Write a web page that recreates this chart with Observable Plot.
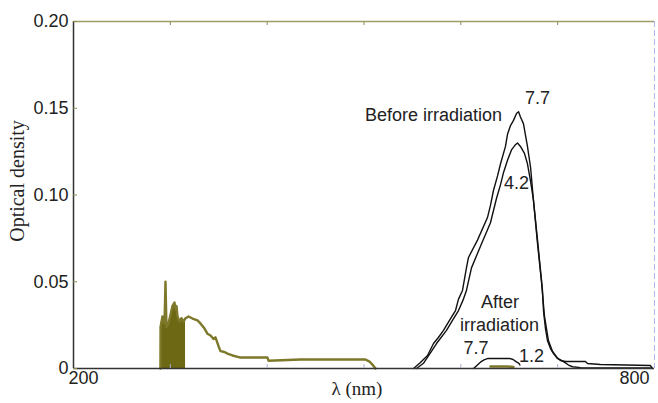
<!DOCTYPE html>
<html><head><meta charset="utf-8">
<script src="https://cdn.jsdelivr.net/npm/d3@7"></script>
<script src="https://cdn.jsdelivr.net/npm/@observablehq/plot@0.6"></script>
<style>
html,body{margin:0;padding:0;background:#fff;}
#chart{width:658px;height:403px;overflow:hidden;}
</style></head><body><div id="chart"></div>
<script>
// UV absorption (olive), wavelength nm / optical density
const uvLambda = [289.8,289.9,291.9,294,295,296,298.1,300.2,302.2,304.3,305.3,306.4,307.4,309.5,311.5,313.6,315.7,318.8,322.9,328,331.1,335.3,338.4,341.5,344.6,346.6,349.7,351.8,355.9,359,364.2,372.5,400.3,401.4,434.4,475.7,501.5,505.7,509.8,511.9];
const uvOD     = [0,0.024,0.030,0.026,0.050,0.024,0.026,0.031,0.036,0.038,0.034,0.036,0.030,0.027,0.029,0.027,0.029,0.030,0.0288,0.0277,0.026,0.023,0.020,0.019,0.017,0.018,0.013,0.010,0.0095,0.0086,0.0075,0.0063,0.0063,0.0045,0.0052,0.0052,0.0052,0.0040,0.0015,0];
const uvFillEnd = 315.7;

// Before irradiation, pH 7.7
const before77Lambda = [551.1,558.3,565.6,571.8,577,582.1,588.3,594.5,597.6,601.7,605.8,607.9,617.2,627.5,630.6,633.7,637.9,641,646.1,648.2,651.3,654.4,657.5,659.6,661.6,664.7,668.8,672,675,679.2,682.3,684.3,685.4,687.4,689.5,692.6,695.7,699.8,702.9,708.1,728.7,730.8,744.2,795.9,797.9];
const before77OD     = [0,0.0035,0.0075,0.0144,0.018,0.022,0.0277,0.0334,0.040,0.045,0.058,0.064,0.074,0.087,0.094,0.1026,0.111,0.118,0.128,0.135,0.140,0.143,0.147,0.148,0.145,0.141,0.128,0.116,0.097,0.074,0.0565,0.045,0.033,0.023,0.016,0.0115,0.0086,0.0058,0.0046,0.004,0.004,0.0029,0.0023,0.0017,0];

// Before irradiation, pH 4.2
const before42Lambda = [554.2,561.4,568.6,574.9,585.2,591.4,597.6,602.7,605.8,611,620.3,630.6,636.8,641,644.1,648.2,652.3,656.4,658.5,661.6,665.7,668.8,672,675,679.2,683.3,686.4,690.5,694.6,699.8,706,711.2,715.3,723.6,795.9];
const before42OD     = [0,0.003,0.009,0.0144,0.022,0.0277,0.0334,0.040,0.045,0.058,0.0705,0.084,0.098,0.106,0.113,0.120,0.126,0.129,0.130,0.128,0.124,0.118,0.108,0.097,0.072,0.050,0.030,0.016,0.010,0.006,0.004,0.002,0.001,0.0005,0.0003];

// After irradiation, pH 7.7 and 1.2
const after77Lambda = [613.1,616,618,621,624,628,650,654,657,660,661];
const after77OD     = [0,0.0015,0.0025,0.004,0.005,0.0058,0.0058,0.0052,0.004,0.003,0.002];
const after12Lambda = [630.6,640,648,654.4];
const after12OD     = [0.0012,0.0012,0.0012,0.0009];

// Axis ticks
const xTicks = [200, 800];
const xTickLabels = ["200", "800"];
const xMinorTicks = [300, 400, 500, 600, 700];
const yTicks = [0, 0.05, 0.10, 0.15, 0.20];
const yTickLabels = ["0", "0.05", "0.10", "0.15", "0.20"];

// Annotations
const annoText   = ["Before irradiation", "7.7", "4.2", "After", "irradiation", "7.7", "1.2"];
const annoLambda = [571.8, 679.2, 657.5, 640.4, 639.9, 615.7, 673];
const annoOD     = [0.1458, 0.1555, 0.1066, 0.0383, 0.0248, 0.0118, 0.0069];

const zip = (xs, ys) => xs.map((l, i) => ({l, v: ys[i]}));
const uv = zip(uvLambda, uvOD);
const uvFill = uv.filter(d => d.l <= uvFillEnd).concat([{l: uvFillEnd, v: 0}]);
const b77 = zip(before77Lambda, before77OD);
const b42 = zip(before42Lambda, before42OD);
const a77 = zip(after77Lambda, after77OD);
const a12 = zip(after12Lambda, after12OD);
const anno = annoText.map((t, i) => ({t, l: annoLambda[i], v: annoOD[i]}));

const sans = "'Liberation Sans', Arial, Helvetica, sans-serif";
const serif = "'Liberation Serif', 'Times New Roman', serif";

const chart = Plot.plot({
  width: 658, height: 403,
  marginLeft: 73, marginRight: 4, marginTop: 21, marginBottom: 35,
  style: {fontFamily: sans, fontSize: "18px", background: "#fff", color: "#222", overflow: "visible"},
  x: {domain: [200, 800], label: null},
  y: {domain: [0, 0.2], label: null},
  marks: [
    Plot.areaY(uvFill, {x: "l", y: "v", fill: "#6c6814"}),
    Plot.line(uv, {x: "l", y: "v", stroke: "#7d782a", strokeWidth: 2.4}),
    Plot.line(b42, {x: "l", y: "v", stroke: "#111", strokeWidth: 1.4}),
    Plot.line(b77, {x: "l", y: "v", stroke: "#111", strokeWidth: 1.4}),
    Plot.line(a12, {x: "l", y: "v", stroke: "#7d782a", strokeWidth: 2.5}),
    Plot.line(a77, {x: "l", y: "v", stroke: "#111", strokeWidth: 1.4}),
    // frame
    Plot.ruleY([0.2], {stroke: "#9f9c66", strokeWidth: 1.5}),
    Plot.ruleX([800], {stroke: "#aeb6f0", strokeWidth: 1, strokeDasharray: "6,3"}),
    Plot.ruleX([200], {stroke: "#333", strokeWidth: 1.5}),
    Plot.ruleY([0], {stroke: "#333", strokeWidth: 1.5}),
    // ticks
    Plot.axisY({ticks: yTicks, tickSize: 0, tickPadding: 5, tickFormat: d => yTickLabels[yTicks.indexOf(d)], fontSize: 18, fill: "#222"}),
    Plot.axisY({ticks: yTicks, tickSize: -4, tickFormat: () => "", stroke: "#8c8a50"}),
    Plot.axisX({anchor: "bottom", ticks: xMinorTicks, tickSize: -4, tickFormat: () => "", stroke: "#a9aec8"}),
    Plot.axisX({anchor: "top", ticks: xMinorTicks, tickSize: -3, tickFormat: () => "", stroke: "#8c8a50"}),
    Plot.text([xTicks[0]], {x: d => d, text: () => xTickLabels[0], frameAnchor: "bottom", dy: 15, dx: -5, textAnchor: "start", fontSize: 18, fill: "#222"}),
    Plot.text([xTicks[1]], {x: d => d, text: () => xTickLabels[1], frameAnchor: "bottom", dy: 15, dx: -5, textAnchor: "end", fontSize: 18, fill: "#222"}),
    // annotations
    Plot.text(anno, {x: "l", y: "v", text: "t", fontSize: 18, fill: "#222", textAnchor: "middle"}),
    // axis titles
    Plot.text(["λ (nm)"], {text: d => d, frameAnchor: "bottom", dy: 26, dx: -7, fontFamily: serif, fontSize: 19, fill: "#222"}),
    Plot.text(["Optical density"], {text: d => d, frameAnchor: "left", textAnchor: "middle", dx: -56, dy: -14, rotate: -90, fontFamily: serif, fontSize: 20, fill: "#222"})
  ]
});
document.getElementById("chart").appendChild(chart);
</script>
</body></html>
